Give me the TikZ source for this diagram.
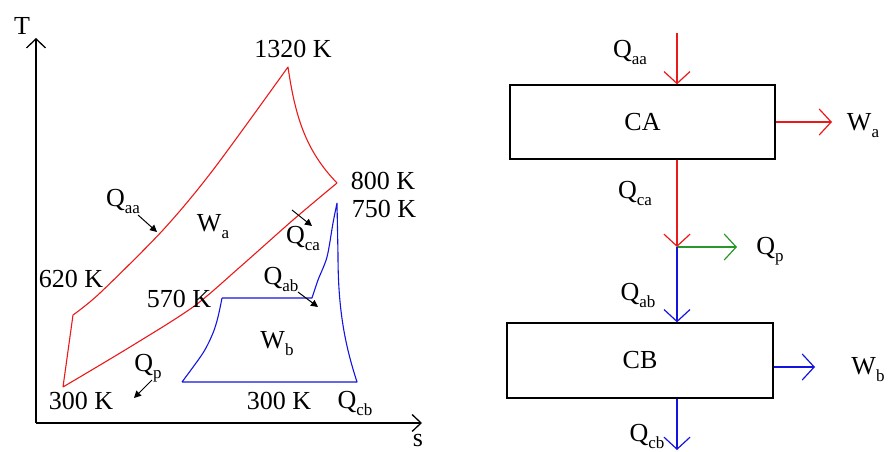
\documentclass[tikz,border=0pt]{standalone}
\usepackage{fontspec}
\setmainfont{Liberation Serif}
\usetikzlibrary{arrows.meta}
\newcommand\lbfont{\fontsize{26}{29}\selectfont}
\newcommand\sbx[1]{\raisebox{-0.27em}{\fontsize{17}{17}\selectfont #1}}
\begin{document}
\begin{tikzpicture}[x=1pt,y=-1pt,
  lbl/.style={font=\lbfont, inner sep=0pt},
  curve/.style={line width=1.1pt, line join=round},
  ptr/.style={-{Triangle[length=7pt,width=7pt]}, line width=1pt},
  flow/.style={-{Straight Barb[length=12pt,width=26pt]}, line width=1.2pt},
  axis/.style={line width=1.3pt},
  box/.style={draw, line width=1.3pt, minimum width=265pt, minimum height=74pt, font=\lbfont, inner sep=0pt}]
\useasboundingbox (0,0) rectangle (888,452);
\definecolor{myred}{RGB}{235,25,25}
\definecolor{myblue}{RGB}{20,20,225}
\definecolor{mygreen}{RGB}{40,150,40}

% axes
\coordinate (O) at (36,423);
\coordinate (Ttip) at (36,38);
\coordinate (Stip) at (422,423);
\draw[axis,-{Straight Barb[length=9pt,width=19pt]}] (O) -- (Ttip);
\draw[axis,-{Straight Barb[length=9pt,width=17pt]}] (O) -- (Stip);
\node[lbl] (Tl) at (22,26) {T};
\node[lbl] (Sl) at (418,440) {s};

% red cycle
\draw[myred,curve] (63,387) -- (73,315)
  plot[smooth,tension=0.5] coordinates {(73,315) (100,293) (163,230) (213,170) (288,67)}
  .. controls (295,115) and (305,150) .. (337,183)
  plot[smooth,tension=0.5] coordinates {(337,183) (293,220) (240,267) (193,307) (130,347) (63,387)};

% blue cycle
\draw[myblue,curve] (182,382) -- (357,382)
  .. controls (345,345) and (338,310) .. (338,255) -- (337,203)
  plot[smooth,tension=0.5] coordinates {(337,203) (333,223) (327,257) (318,280) (312,298)}
  -- (222,298)
  plot[smooth,tension=0.5] coordinates {(222,298) (218,317) (213,333) (203,353) (182,382)};

% labels T-s
\node[lbl] (t1320) at (293,49) {1320 K};
\node[lbl] (t800) at (383,181) {800 K};
\node[lbl] (t750) at (384,209) {750 K};
\node[lbl] (t620) at (71,279) {620 K};
\node[lbl] (t570) at (179,299) {570 K};
\node[lbl] (t300a) at (81,401) {300 K};
\node[lbl] (t300b) at (279,401) {300 K};
\node[lbl] (lQaa) at (123,201) {Q\sbx{aa}};
\node[lbl] (lWa) at (213,227) {W\sbx{a}};
\node[lbl] (lQca) at (303,238) {Q\sbx{ca}};
\node[lbl] (lQab) at (281,279) {Q\sbx{ab}};
\node[lbl] (lWb) at (277,344) {W\sbx{b}};
\node[lbl] (lQp) at (148,368) {Q\sbx{p}};
\node[lbl] (lQcb) at (355,403) {Q\sbx{cb}};

% pointer arrows
\coordinate (pa1) at (138,215); \coordinate (pa2) at (157,232);
\coordinate (pc1) at (292,210); \coordinate (pc2) at (312,226);
\coordinate (pb1) at (298,292); \coordinate (pb2) at (318,307);
\coordinate (pp1) at (152,380); \coordinate (pp2) at (134,398);
\draw[ptr] (pa1) -- (pa2);
\draw[ptr] (pc1) -- (pc2);
\draw[ptr] (pb1) -- (pb2);
\draw[ptr] (pp1) -- (pp2);

% right diagram
\node[box] (CA) at (642.5,122) {CA};
\node[box, minimum width=266pt, minimum height=75pt] (CB) at (640,360.5) {CB};
\coordinate (qin) at (677,33);
\coordinate (J) at (677,247);
\coordinate (wa) at (832,122);
\coordinate (qp) at (737,247);
\coordinate (wb) at (815,367);
\coordinate (qcb) at (677,450);

\draw[flow,myred] (qin) -- (qin |- CA.north);
\draw[flow,myred] (CA.east) -- (wa);
\draw[flow,myred] (qin |- CA.south) -- (J);
\draw[flow,mygreen] (J) -- (qp);
\draw[flow,myblue] (J) -- (J |- CB.north);
\draw[flow,myblue] (wb -| CB.east) -- (wb);
\draw[flow,myblue] (J |- CB.south) -- (qcb);

\node[lbl] (rQaa) at (630,52) {Q\sbx{aa}};
\node[lbl] (rWa) at (863,126) {W\sbx{a}};
\node[lbl] (rQca) at (635,193) {Q\sbx{ca}};
\node[lbl] (rQp) at (770,251) {Q\sbx{p}};
\node[lbl] (rQab) at (638,295) {Q\sbx{ab}};
\node[lbl] (rWb) at (868,370) {W\sbx{b}};
\node[lbl] (rQcb) at (647,436) {Q\sbx{cb}};
\end{tikzpicture}
\end{document}
